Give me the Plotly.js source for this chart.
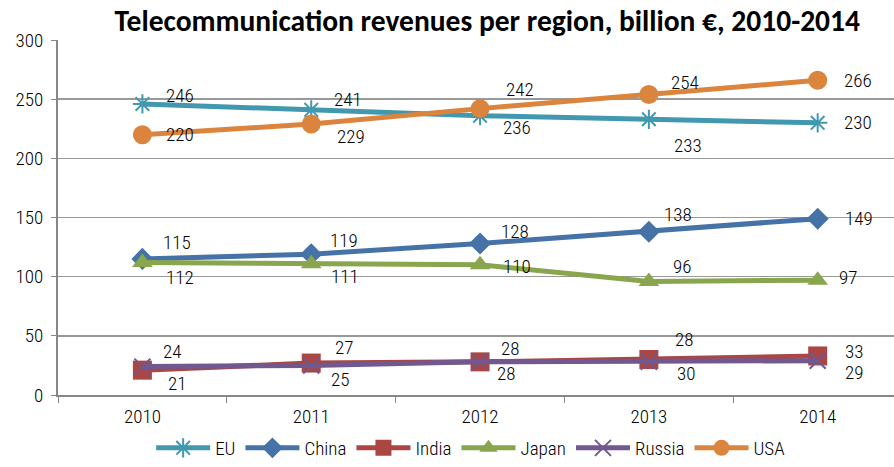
<!DOCTYPE html>
<html><head><meta charset="utf-8">
<script src="https://cdn.plot.ly/plotly-3.0.1.min.js"></script>
<style>html,body{margin:0;padding:0;background:#fff}#c{width:894px;height:467px}</style>
</head><body><div id="c"></div>
<script>
const years = ['2010','2011','2012','2013','2014'];
const eu     = [246, 241, 236, 233, 230];
const china  = [115, 119, 128, 138, 149];
const india  = [21, 27, 28, 30, 33];
const japan  = [112, 111, 110, 96, 97];
const russia = [24, 25, 28, 28, 29];
const usa    = [220, 229, 242, 254, 266];
const seriesNames = ['EU','China','India','Japan','Russia','USA'];
const yTicks = [0, 50, 100, 150, 200, 250, 300];

const series = [eu, china, india, japan, russia, usa];
const colors = ['#4198AF','#4572A7','#AA4643','#89A54E','#71588F','#DB843D'];
const symbols = ['asterisk-open','diamond','square','triangle-up','x-thin-open','circle'];
const msize = [16, 17, 19, 18, 16, 19];
// label offsets in pixels (dx right, dy down)
const offs = [
  [[38,-8],[37,-10],[37,12],[39,26],[40,0]],
  [[35,-16],[33,-14],[35,-12],[29,-17],[41,0]],
  [[35,13],[33,-16],[30,-13],[37,14],[36,-4]],
  [[38,15],[34,13],[37,2],[33,-15],[30,-3]],
  [[30,-15],[29,14],[26,12],[35,-22],[36,12]],
  [[38,0],[40,12],[40,-19],[36,-12],[40,0]]
];
const F = 'Roboto Condensed, Open Sans Condensed, sans-serif';
const tf = {family:F, size:19, color:'#000', weight:300};
const traces = series.map((s,i)=>({
  x: years, y: s, name: seriesNames[i], type:'scatter', mode:'lines+markers',
  line:{color:colors[i], width:5},
  marker:{symbol:symbols[i], size:msize[i], color:colors[i], line:{color:colors[i], width: (symbols[i].includes('open')?2:0)}},
  cliponaxis:false
}));
const ann = [];
series.forEach((s,i)=>s.forEach((v,j)=>{
  ann.push({x:j, y:v, xref:'x', yref:'y', text:String(v), showarrow:false,
    xanchor:'center', yanchor:'middle', xshift:offs[i][j][0], yshift:-offs[i][j][1],
    font:tf});
}));
const layout = {
  width:894, height:467,
  margin:{l:58, r:0, t:40, b:72},
  paper_bgcolor:'#fff', plot_bgcolor:'#fff',
  title:{text:'<b>Telecommunication revenues per region, billion €, 2010-2014</b>',
    font:{family:'Carlito, Calibri, sans-serif', size:29.5, color:'#000'},
    x:0.545, xanchor:'center', y:0.955, yanchor:'middle', xref:'container', yref:'container'},
  xaxis:{type:'category', range:[-0.5, 4.452], tickson:'boundaries', ticks:'outside', ticklen:6,
    tickcolor:'#868686', showline:true, linecolor:'#868686', linewidth:2, showgrid:false,
    tickfont:tf, zeroline:false, fixedrange:true, ticklabelstandoff:3},
  yaxis:{range:[0,300], tickvals:yTicks, ticktext:yTicks.map(String), ticks:'outside', ticklen:5,
    tickcolor:'#868686', showline:true, linecolor:'#868686', linewidth:2,
    gridcolor:'#999', gridwidth:1.5, zeroline:false,
    tickfont:tf, ticklabelstandoff:4},
  showlegend:true,
  legend:{orientation:'h', x:0.527, xanchor:'center', xref:'container', y:-0.031, yref:'container', yanchor:'bottom',
    font:tf, itemwidth:54, traceorder:'normal', tracegroupgap:0},
  annotations: ann
};
Plotly.newPlot('c', traces, layout, {displayModeBar:false, staticPlot:true});
</script></body></html>
